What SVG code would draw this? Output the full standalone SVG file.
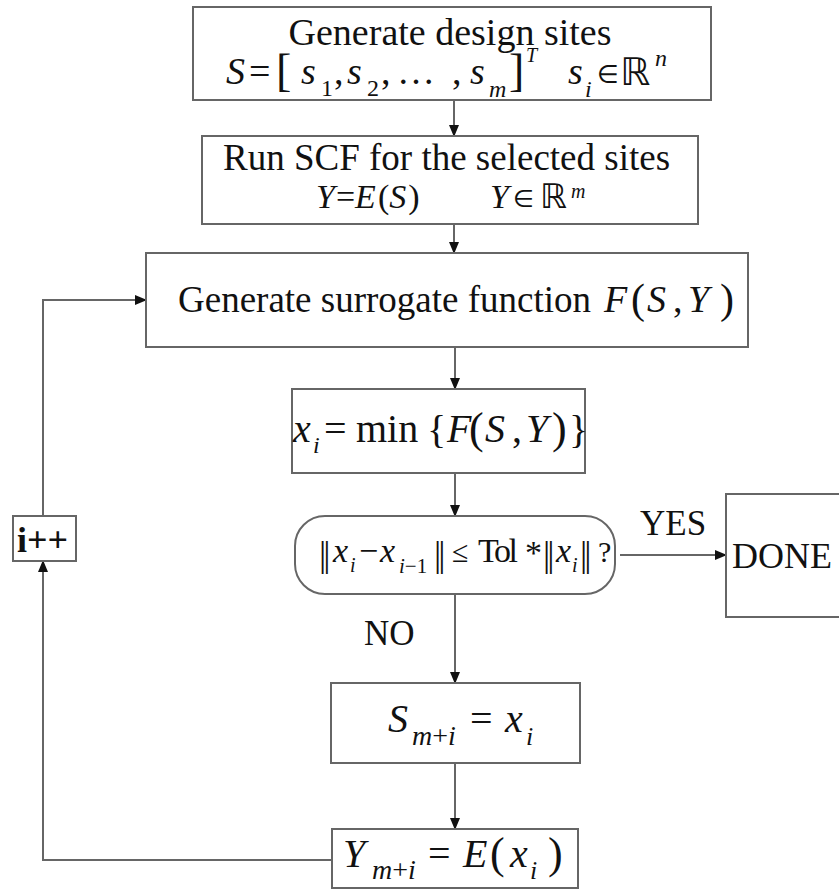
<svg xmlns="http://www.w3.org/2000/svg" width="839" height="890" viewBox="0 0 839 890">
  <defs>
    <marker id="ah" markerUnits="userSpaceOnUse" markerWidth="12" markerHeight="10" refX="11" refY="5" orient="auto">
      <path d="M0,0 L12,5 L0,10 Z" fill="#111"/>
    </marker>
    <style>
      .box { fill: #fff; stroke: #666; stroke-width: 2; }
      .wire { fill: none; stroke: #666; stroke-width: 2; }
      text { font-family: "Liberation Serif", "Times New Roman", serif; fill: #111; }
      .i { font-style: italic; }
      .n { font-size: 37px; }
      .m { font-size: 38px; }
      .s { font-size: 24px; }
      .sym { font-family: "DejaVu Sans", sans-serif; }
      .bar { font-size: 36px; letter-spacing: -3px; }
    </style>
  </defs>
  <rect width="839" height="890" fill="#fff"/>

  <!-- connectors -->
  <g id="connectors">
    <line class="wire" x1="454" y1="100" x2="454" y2="136" marker-end="url(#ah)"/>
    <line class="wire" x1="454" y1="224" x2="454" y2="253" marker-end="url(#ah)"/>
    <line class="wire" x1="455" y1="347" x2="455" y2="389" marker-end="url(#ah)"/>
    <line class="wire" x1="455" y1="473" x2="455" y2="516" marker-end="url(#ah)"/>
    <line class="wire" x1="620" y1="555" x2="726" y2="555" marker-end="url(#ah)"/>
    <line class="wire" x1="455" y1="594" x2="455" y2="683" marker-end="url(#ah)"/>
    <line class="wire" x1="455" y1="763" x2="455" y2="829" marker-end="url(#ah)"/>
    <polyline class="wire" points="332,860 43,860 43,561" marker-end="url(#ah)"/>
    <polyline class="wire" points="43,516 43,300 146,300" marker-end="url(#ah)"/>
    <text x="640" y="535" font-size="35">YES</text>
    <text x="364" y="645" font-size="35">NO</text>
  </g>

  <!-- generate initial design sites -->
  <g id="sites">
    <rect class="box" x="193" y="7" width="518" height="93"/>
    <text x="450" y="45" font-size="38" text-anchor="middle">Generate design sites</text>
    <text class="m i" x="226" y="84">S</text>
    <text class="m" x="249" y="84">=</text>
    <text x="276" y="86" font-size="46">[</text>
    <text class="m i" x="301" y="84">s</text>
    <text class="s" x="321" y="96">1</text>
    <text class="m" x="334" y="84">,</text>
    <text class="m i" x="347" y="84">s</text>
    <text class="s" x="367" y="96">2</text>
    <text class="m" x="381" y="84">,</text>
    <text class="m" x="397" y="84" textLength="44">…</text>
    <text class="m" x="452" y="84">,</text>
    <text class="m i" x="470" y="84">s</text>
    <text class="s i" x="489" y="97">m</text>
    <text x="509" y="86" font-size="46">]</text>
    <text class="i" x="526" y="62" font-size="20">T</text>
    <text class="m i" x="568" y="84">s</text>
    <text class="s i" x="585" y="97">i</text>
    <text class="sym" x="597" y="83" font-size="25">∈</text>
    <text class="sym" x="620" y="85" font-size="38">ℝ</text>
    <text class="s i" x="655" y="66">n</text>
  </g>

  <!-- SCF evaluation -->
  <g id="scf">
    <rect class="box" x="202" y="136" width="496" height="88"/>
    <text class="n" x="223" y="170">Run SCF for the selected sites</text>
    <text x="316" y="208" font-size="34"><tspan class="i">Y</tspan><tspan dx="1">=</tspan><tspan class="i">E</tspan><tspan dx="2">(</tspan><tspan class="i">S</tspan><tspan dx="2">)</tspan></text>
    <text class="i" x="490" y="208" font-size="34">Y</text>
    <text class="sym" x="513" y="207" font-size="24">∈</text>
    <text class="sym" x="540" y="208" font-size="34">ℝ</text>
    <text class="i" x="571" y="198" font-size="20">m</text>
  </g>

  <!-- surrogate model -->
  <g id="surrogate">
    <rect class="box" x="146" y="253" width="602" height="94"/>
    <text class="n" x="178" y="312">Generate surrogate function</text>
    <text class="m i" x="604" y="312">F</text>
    <text x="631" y="313" font-size="42">(</text>
    <text class="m i" x="647" y="312">S</text>
    <text class="m" x="673" y="312">,</text>
    <text class="m i" x="688" y="312">Y</text>
    <text x="720" y="313" font-size="42">)</text>
  </g>

  <!-- minimisation -->
  <g id="minimise">
    <rect class="box" x="292" y="389" width="293" height="84"/>
    <text class="i" x="293" y="442" font-size="40">x</text>
    <text class="s i" x="313" y="453">i</text>
    <text x="324" y="442" font-size="40">=</text>
    <text x="356" y="442" font-size="40">min</text>
    <text x="427" y="443" font-size="40">{</text>
    <text class="i" x="447" y="442" font-size="40">F</text>
    <text x="469" y="443" font-size="44">(</text>
    <text class="i" x="485" y="442" font-size="40">S</text>
    <text x="512" y="442" font-size="40">,</text>
    <text class="i" x="526" y="442" font-size="40">Y</text>
    <text x="552" y="443" font-size="44">)</text>
    <text x="569" y="443" font-size="40">}</text>
  </g>

  <!-- convergence test -->
  <g id="converged">
    <rect class="box" x="295" y="516" width="320" height="78" rx="30" ry="30"/>
    <text class="bar" x="319" y="566">||</text>
    <text class="i" x="333" y="562" font-size="34">x</text>
    <text class="i" x="350" y="572" font-size="20">i</text>
    <text x="359" y="562" font-size="34">−</text>
    <text class="i" x="380" y="562" font-size="34">x</text>
    <text class="i" x="399" y="573" font-size="21">i<tspan font-style="normal">−1</tspan></text>
    <text class="bar" x="434" y="566">||</text>
    <text x="452" y="562" font-size="30">≤</text>
    <text x="478" y="562" font-size="34" textLength="40">Tol</text>
    <text x="525" y="564" font-size="34">*</text>
    <text class="bar" x="543" y="566">||</text>
    <text class="i" x="556" y="562" font-size="34">x</text>
    <text class="i" x="572" y="572" font-size="20">i</text>
    <text class="bar" x="580" y="566">||</text>
    <text x="598" y="562" font-size="30">?</text>
  </g>

  <!-- termination -->
  <g id="done">
    <rect class="box" x="726" y="494" width="130" height="123"/>
    <text x="732" y="568" font-size="36">DONE</text>
  </g>

  <!-- append new site -->
  <g id="append-site">
    <rect class="box" x="331" y="683" width="249" height="80"/>
    <text class="i" x="388" y="732" font-size="40">S</text>
    <text class="i" x="412" y="745" font-size="28">m<tspan font-style="normal">+</tspan>i</text>
    <text x="470" y="732" font-size="40">=</text>
    <text class="i" x="505" y="732" font-size="40">x</text>
    <text class="i" x="526" y="745" font-size="26">i</text>
  </g>

  <!-- evaluate new site -->
  <g id="evaluate-site">
    <rect class="box" x="332" y="829" width="246" height="59"/>
    <text class="i" x="343" y="867" font-size="40">Y</text>
    <text class="i" x="372" y="879" font-size="28">m<tspan font-style="normal">+</tspan>i</text>
    <text x="428" y="867" font-size="40">=</text>
    <text class="i" x="463" y="867" font-size="40">E</text>
    <text x="490" y="868" font-size="44">(</text>
    <text class="i" x="510" y="867" font-size="40">x</text>
    <text class="i" x="530" y="879" font-size="26">i</text>
    <text x="548" y="868" font-size="44">)</text>
  </g>

  <!-- iteration counter -->
  <g id="counter">
    <rect class="box" x="13" y="516" width="63" height="45"/>
    <text x="17" y="552" font-size="36" font-weight="bold">i++</text>
  </g>
</svg>
